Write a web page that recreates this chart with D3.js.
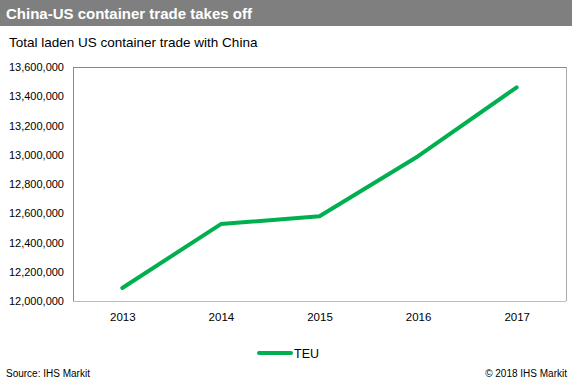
<!DOCTYPE html>
<html lang="en">
<head>
    <meta charset="UTF-8">
    <title>China-US container trade takes off</title>
    <script src="https://d3js.org/d3.v7.min.js"></script>
    <style>
        * { margin: 0; padding: 0; box-sizing: border-box; }
        body { font-family: Arial, "Liberation Sans", sans-serif; background: #fff; overflow: hidden; }
        svg text { fill: #000; }
    </style>
</head>
<body>
    <svg></svg>
    <script>
        // data
        const years = ["2013", "2014", "2015", "2016", "2017"];
        const teu = [12089000, 12526000, 12580000, 12990000, 13461000];
        const yTicks = [12000000, 12200000, 12400000, 12600000, 12800000, 13000000, 13200000, 13400000, 13600000];

        const width = 572, height = 386;
        const svg = d3.select("svg").attr("width", width).attr("height", height);

        // header bar
        svg.append("rect").attr("x", 0).attr("y", 0).attr("width", width).attr("height", 26).attr("fill", "#7f7f7f");
        svg.append("text").attr("x", 6).attr("y", 19)
            .style("font-size", "15px").style("font-weight", "bold").style("fill", "#fff")
            .text("China-US container trade takes off");
        svg.append("text").attr("x", 9).attr("y", 47)
            .style("font-size", "13.5px")
            .text("Total laden US container trade with China");

        const plot = { left: 73, right: 566, top: 67, bottom: 301 };

        const x = d3.scalePoint().domain(years).range([plot.left, plot.right]).padding(0.5);
        const y = d3.scaleLinear().domain([12000000, 13600000]).range([plot.bottom, plot.top]);

        // frame
        const g = svg.append("g");
        g.append("line").attr("x1", plot.left).attr("x2", plot.left).attr("y1", plot.top).attr("y2", plot.bottom)
            .attr("stroke", "#888").attr("stroke-width", 1).attr("shape-rendering", "crispEdges");
        g.append("line").attr("x1", plot.left).attr("x2", plot.right).attr("y1", plot.top).attr("y2", plot.top)
            .attr("stroke", "#888").attr("stroke-width", 1).attr("shape-rendering", "crispEdges");
        g.append("line").attr("x1", plot.right).attr("x2", plot.right).attr("y1", plot.top).attr("y2", plot.bottom)
            .attr("stroke", "#aaa").attr("stroke-width", 1).attr("shape-rendering", "crispEdges");
        g.append("line").attr("x1", plot.left).attr("x2", plot.right).attr("y1", plot.bottom).attr("y2", plot.bottom)
            .attr("stroke", "#bbb").attr("stroke-width", 1).attr("shape-rendering", "crispEdges");

        // y axis labels
        const yAxis = d3.axisLeft(y).tickValues(yTicks).tickSize(0).tickPadding(9).tickFormat(d3.format(","));
        const ya = svg.append("g").attr("transform", `translate(${plot.left},0)`).call(yAxis);
        ya.select(".domain").remove();
        ya.selectAll("text").style("font-size", "11px").style("font-family", "Arial, 'Liberation Sans', sans-serif").attr("fill", "#000");

        // x axis labels
        const xAxis = d3.axisBottom(x).tickSize(0).tickPadding(12);
        const xa = svg.append("g").attr("transform", `translate(0,${plot.bottom})`).call(xAxis);
        xa.select(".domain").remove();
        xa.selectAll("text").style("font-size", "11.5px").style("font-family", "Arial, 'Liberation Sans', sans-serif").attr("fill", "#000");

        // line
        const line = d3.line().x((d, i) => x(years[i])).y(d => y(d));
        svg.append("path").datum(teu)
            .attr("fill", "none").attr("stroke", "#00b050").attr("stroke-width", 4)
            .attr("stroke-linecap", "round").attr("stroke-linejoin", "round")
            .attr("d", line);

        // legend
        svg.append("line").attr("x1", 259).attr("x2", 291).attr("y1", 353).attr("y2", 353)
            .attr("stroke", "#00b050").attr("stroke-width", 4).attr("stroke-linecap", "round");
        svg.append("text").attr("x", 294).attr("y", 357.5).style("font-size", "12.5px").text("TEU");

        // footer
        svg.append("text").attr("x", 6).attr("y", 377).style("font-size", "10px").text("Source: IHS Markit");
        svg.append("text").attr("x", 567).attr("y", 377).attr("text-anchor", "end").style("font-size", "10px").text("© 2018 IHS Markit");
    </script>
</body>
</html>
